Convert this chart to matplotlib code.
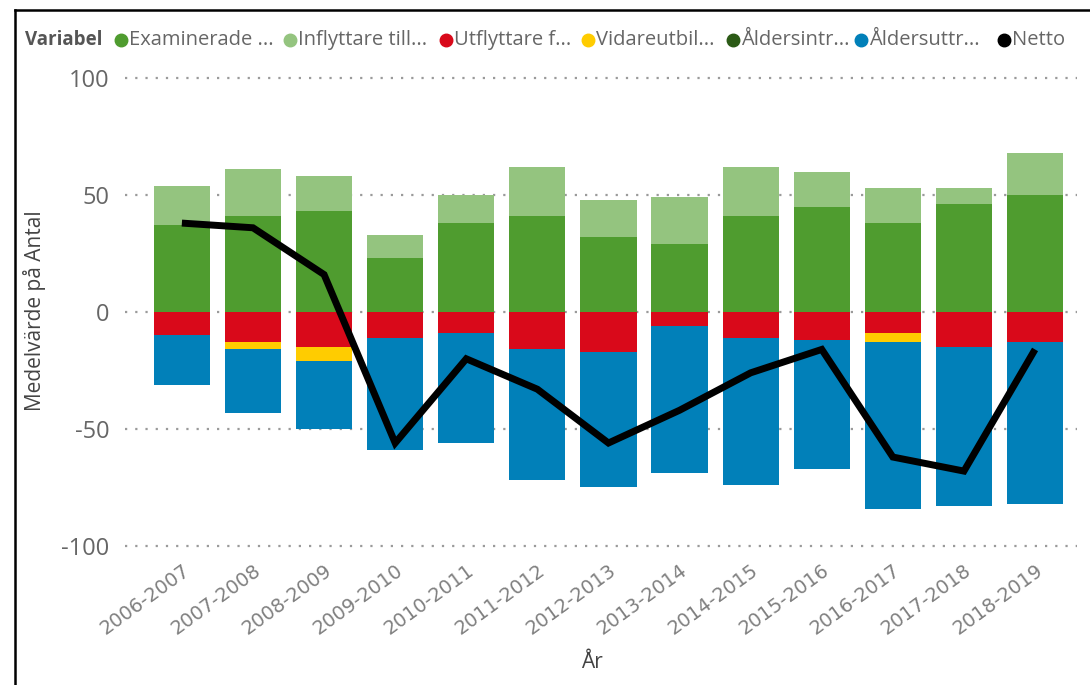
import matplotlib

matplotlib.use("Agg")

import numpy as np
from matplotlib import pyplot as plt
from matplotlib.lines import Line2D

plt.rcParams["font.family"] = ["Open Sans", "DejaVu Sans"]
plt.rcParams["axes.unicode_minus"] = False

years = [
    "2006-2007", "2007-2008", "2008-2009", "2009-2010", "2010-2011",
    "2011-2012", "2012-2013", "2013-2014", "2014-2015", "2015-2016",
    "2016-2017", "2017-2018", "2018-2019",
]
examinerade = [37, 41, 43, 23, 38, 41, 32, 29, 41, 45, 38, 46, 50]
inflyttare = [17, 20, 15, 10, 12, 21, 16, 20, 21, 15, 15, 7, 18]
aldersintrade = [0, 0, 0, 0, 0, 0, 0, 0, 0, 0, 0, 0, 0]
utflyttare = [-10, -13, -15, -11, -9, -16, -17, -6, -11, -12, -9, -15, -13]
vidareutbildning = [0, -3, -6, 0, 0, 0, 0, 0, 0, 0, -4, 0, 0]
aldersuttrade = [-21, -27, -29, -48, -47, -56, -58, -63, -63, -55, -71, -68, -69]
netto = [38, 36, 16, -56, -20, -33, -56, -42, -26, -16, -62, -68, -16]

legend_labels = [
    "Examinerade ...", "Inflyttare till...", "Utflyttare f...", "Vidareutbil...",
    "Åldersintr...", "Åldersuttr...", "Netto",
]
colors = ["#4f9c2f", "#94c47f", "#d9091a", "#ffcc00", "#2b5a16", "#0180b9", "#000000"]

W, H = 1090, 685
fig = plt.figure(figsize=(W / 100, H / 100), dpi=100)
ax = fig.add_axes([125 / W, 1 - 548.3 / H, (1077 - 125) / W, (548.3 - 75.7) / H])

x = np.arange(len(years))
width = 0.79

pos_bottom = np.zeros(len(years))
for vals, col in [(examinerade, colors[0]), (inflyttare, colors[1]), (aldersintrade, colors[4])]:
    ax.bar(x, vals, width, bottom=pos_bottom, color=col, zorder=2)
    pos_bottom += np.array(vals)

neg_bottom = np.zeros(len(years))
for vals, col in [(utflyttare, colors[2]), (vidareutbildning, colors[3]), (aldersuttrade, colors[5])]:
    ax.bar(x, vals, width, bottom=neg_bottom, color=col, zorder=2)
    neg_bottom += np.array(vals)

ax.plot(x, netto, color="black", linewidth=5, solid_joinstyle="miter", solid_capstyle="butt", zorder=3)

ax.set_xlim(-0.80, 12.59)
ax.set_ylim(-101, 101)
ax.set_yticks([-100, -50, 0, 50, 100])
ax.set_xticks(x)
ax.set_xticklabels(years, rotation=36, ha="right", rotation_mode="anchor", fontsize=14,
                   color="#808080", family="DejaVu Sans")
ax.tick_params(axis="x", length=0, pad=9)
ax.tick_params(axis="y", length=0, pad=11, labelsize=17, labelcolor="#666666")
ax.yaxis.grid(True, color="#9a9a9a", linestyle=(0, (1, 3.6)), linewidth=1.6, zorder=0)
ax.set_axisbelow(True)
for spine in ax.spines.values():
    spine.set_visible(False)

fig.text(35 / W, 1 - 311 / H, "Medelvärde på Antal", rotation=90, ha="center", va="center",
         fontsize=15, color="#444444")
fig.text(592 / W, 1 - 663 / H, "År", ha="center", va="center", fontsize=15, color="#444444")

# legend row along the top
fig.text(25 / W, 1 - 40 / H, "Variabel", ha="left", va="center", fontsize=13.5,
         fontweight="bold", color="#555555")
legend_x = [121, 290, 446, 588, 733, 861, 1004]
for lx, lab, col in zip(legend_x, legend_labels, colors):
    fig.add_artist(Line2D([lx / W], [1 - 40 / H], marker="o", markersize=9,
                          color=col, linestyle="none", transform=fig.transFigure))
    fig.text((lx + 8) / W, 1 - 40 / H, lab, ha="left", va="center", fontsize=14.5, color="#666666")

# frame lines
fig.add_artist(Line2D([15 / W, 1], [1 - 10 / H, 1 - 10 / H], color="black", linewidth=1.8,
                      transform=fig.transFigure))
fig.add_artist(Line2D([15 / W, 15 / W], [0, 1 - 10 / H], color="black", linewidth=1.8,
                      transform=fig.transFigure))

fig.savefig("out.png", dpi=100)
